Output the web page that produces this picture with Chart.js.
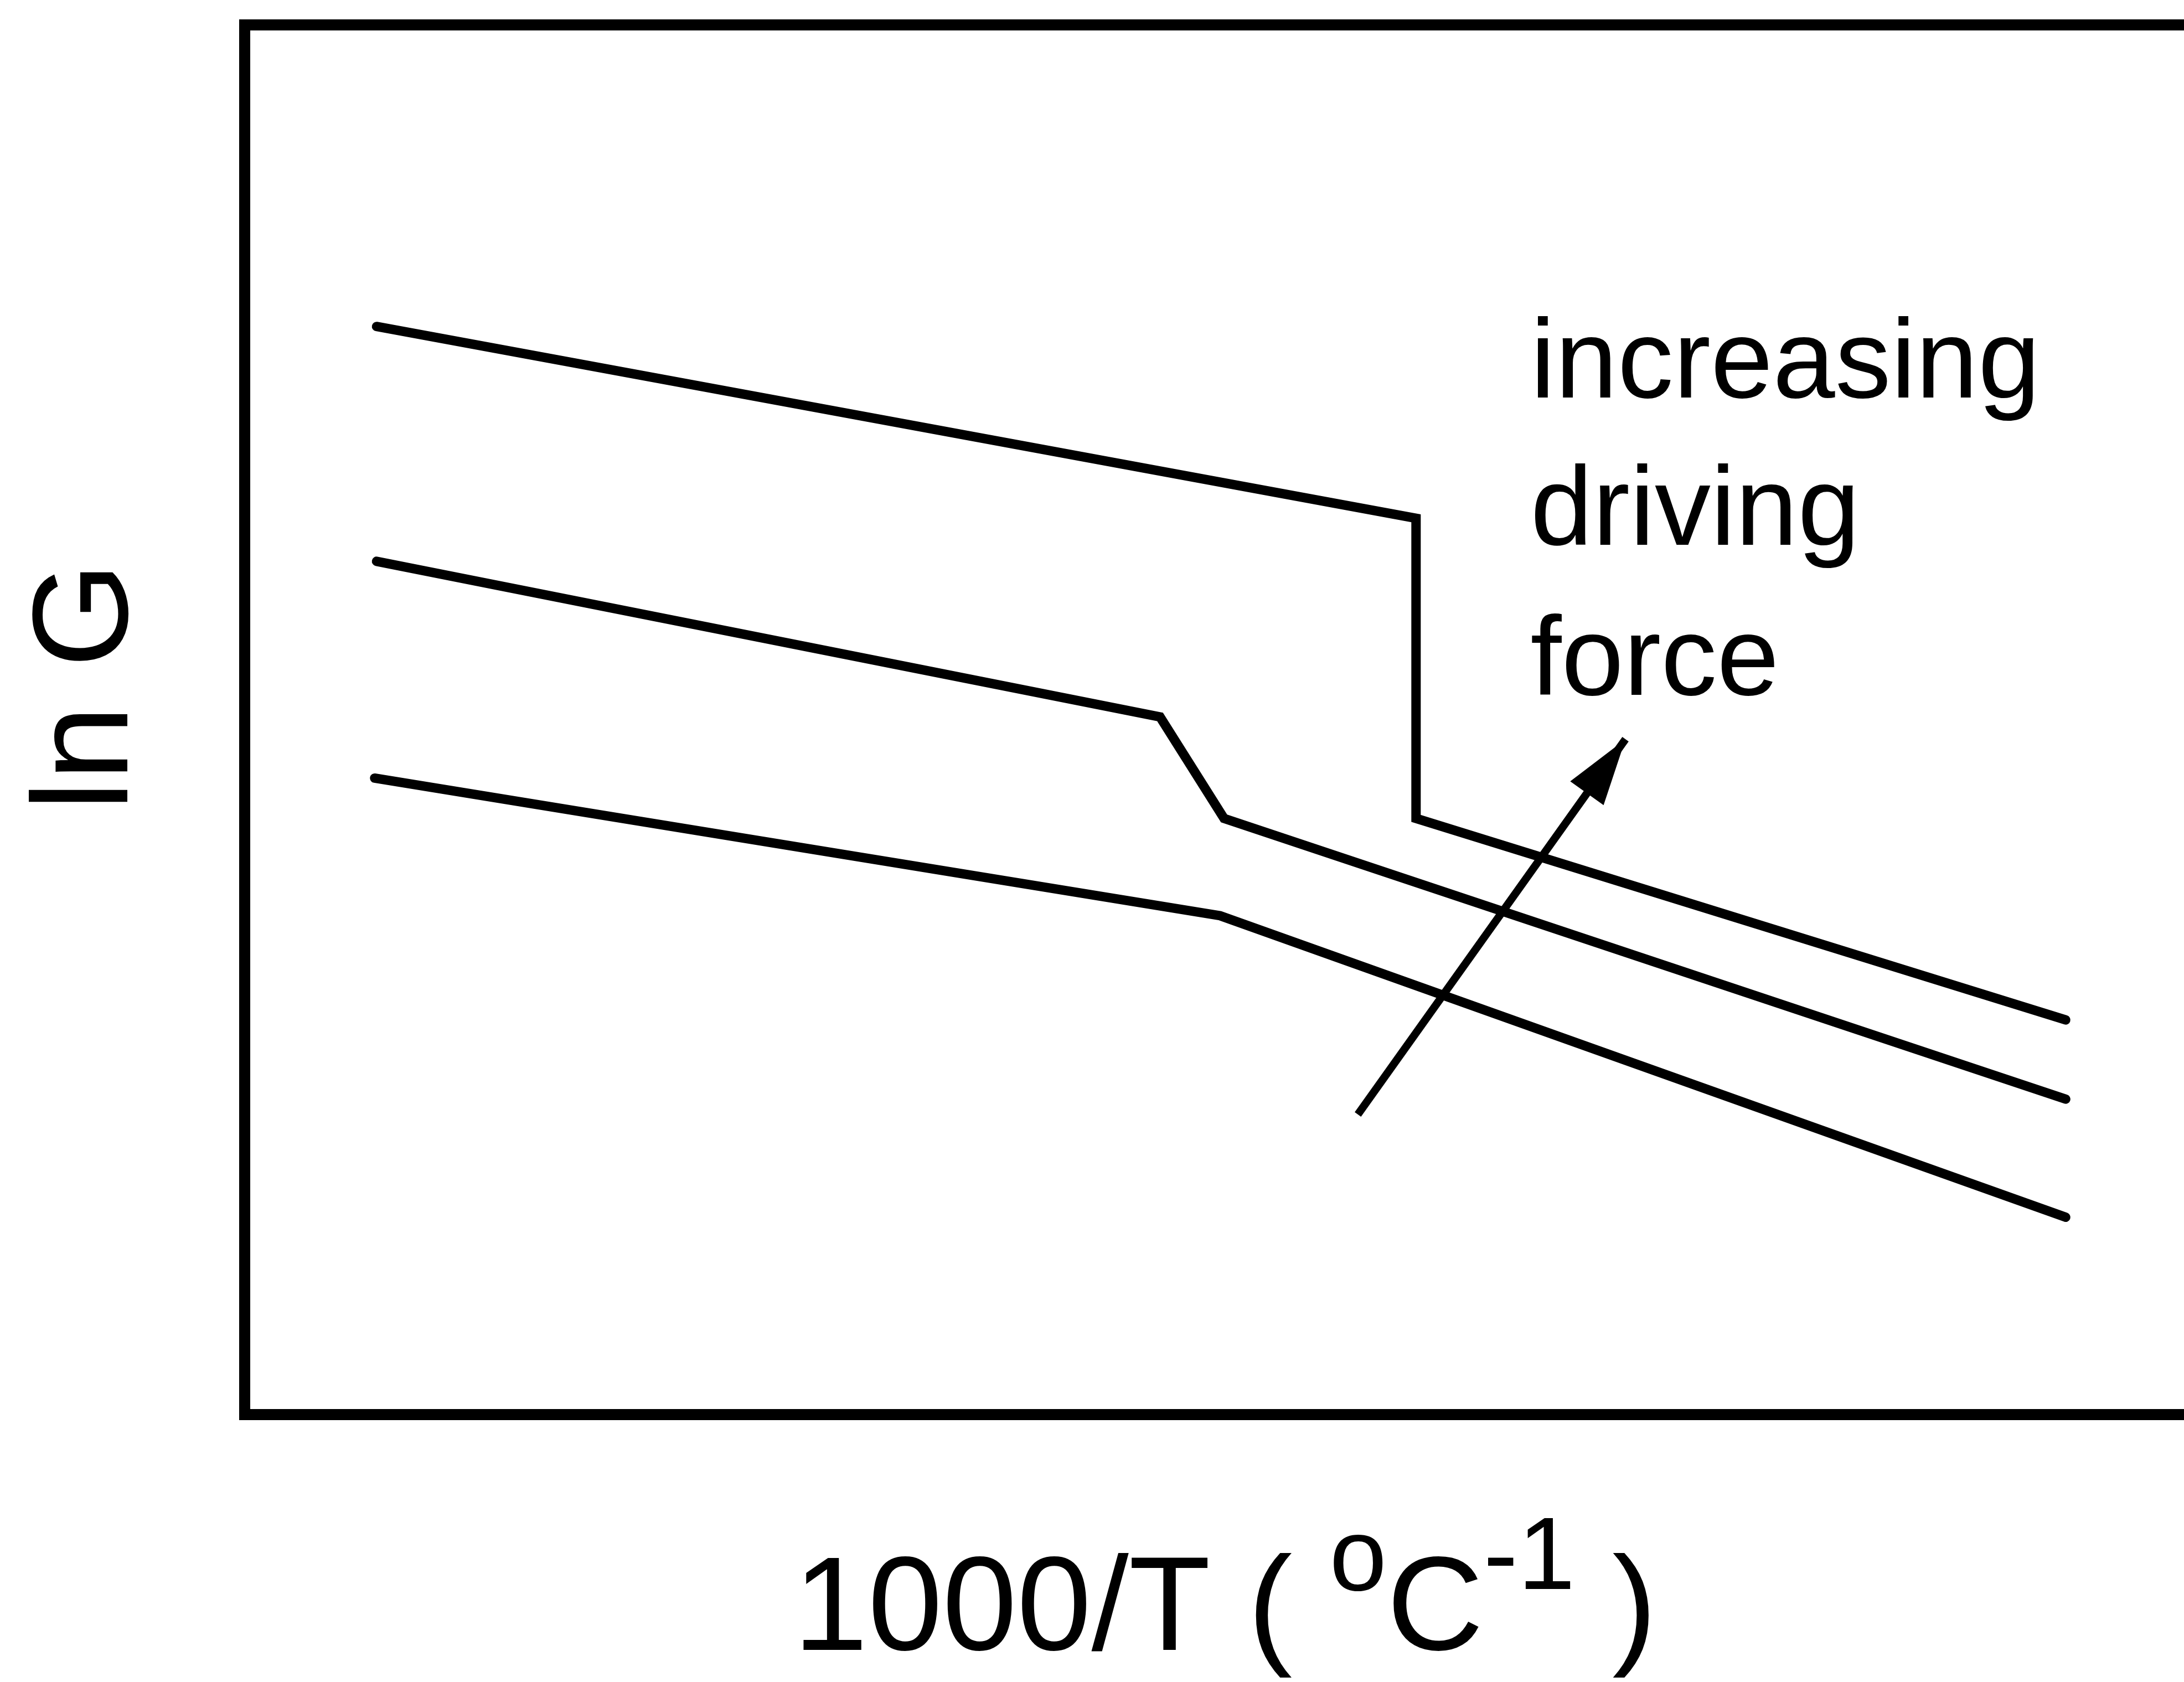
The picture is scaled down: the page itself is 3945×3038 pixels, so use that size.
<!DOCTYPE html>
<html>
<head>
<meta charset="utf-8">
<title>ln G vs 1000/T</title>
<script src="https://cdn.jsdelivr.net/npm/chart.js@4.4.1/dist/chart.umd.min.js"></script>
<style>
  html, body { margin: 0; padding: 0; background: #fff; }
  #chart { display: block; }
</style>
</head>
<body>
<canvas id="chart" width="3945" height="3038"></canvas>
<script>
// curves (arbitrary units: x = 1000/T, y = ln G)
const upperX = [0.68, 6.04, 6.04, 9.39];
const upperY = [7.83, 6.45, 4.29, 2.84];
const middleX = [0.68, 4.72, 5.05, 9.39];
const middleY = [6.14, 5.02, 4.29, 2.27];
const lowerX = [0.67, 5.03, 9.39];
const lowerY = [4.58, 3.59, 1.42];

// arrow "increasing driving force": tail, tip
const arrowX = [5.74, 7.12];
const arrowY = [2.16, 4.86];

const noteLines = ['increasing', 'driving', 'force'];
const noteX = 6.63;
const noteY = [7.32, 6.26, 5.18];

const FONT = '"Liberation Sans", Arial, Helvetica, sans-serif';

function points(xs, ys) {
    return xs.map(function(x, i) { return { x: x, y: ys[i] }; });
}

function curve(xs, ys, width) {
    return {
        data: points(xs, ys),
        borderColor: '#000',
        borderWidth: width,
        borderCapStyle: 'round',
        borderJoinStyle: 'miter',
        pointRadius: 0,
        tension: 0,
        fill: false
    };
}

const hiddenAxis = function(position) {
    return {
        type: 'linear',
        position: position,
        min: 0,
        max: 10,
        ticks: { display: false },
        grid: { display: false, drawTicks: false },
        border: { display: true, width: 20, color: '#000' },
        title: { display: false }
    };
};

// titles, note text and arrow head
const figureText = {
    id: 'figureText',
    afterDraw: function(chart) {
        const ctx = chart.ctx;
        const xs = chart.scales.x;
        const ys = chart.scales.y;
        ctx.save();
        ctx.fillStyle = '#000';
        ctx.textBaseline = 'alphabetic';

        // note
        ctx.font = '202px ' + FONT;
        ctx.textAlign = 'left';
        noteLines.forEach(function(t, i) {
            ctx.fillText(t, xs.getPixelForValue(noteX), ys.getPixelForValue(noteY[i]));
        });

        // arrow head
        const x0 = xs.getPixelForValue(arrowX[0]), y0 = ys.getPixelForValue(arrowY[0]);
        const x1 = xs.getPixelForValue(arrowX[1]), y1 = ys.getPixelForValue(arrowY[1]);
        const ang = Math.atan2(y1 - y0, x1 - x0);
        const headLen = 120, headHalf = 37;
        const bx = x1 - headLen * Math.cos(ang), by = y1 - headLen * Math.sin(ang);
        ctx.beginPath();
        ctx.moveTo(x1, y1);
        ctx.lineTo(bx + headHalf * Math.sin(ang), by - headHalf * Math.cos(ang));
        ctx.lineTo(bx - headHalf * Math.sin(ang), by + headHalf * Math.cos(ang));
        ctx.closePath();
        ctx.fill();

        // y title
        ctx.save();
        ctx.translate(230, 1240);
        ctx.rotate(-Math.PI / 2);
        ctx.font = '245px ' + FONT;
        ctx.textAlign = 'center';
        ctx.fillText('ln G', 0, 0);
        ctx.restore();

        // x title with superscripts
        const parts = [
            { t: '1000/T ( ', size: 242, rise: 0 },
            { t: 'o', size: 186, rise: 108 },
            { t: 'C', size: 242, rise: 0 },
            { t: '-1', size: 186, rise: 110 },
            { t: ' )', size: 242, rise: 0 }
        ];
        let total = 0;
        parts.forEach(function(p) {
            ctx.font = p.size + 'px ' + FONT;
            p.w = ctx.measureText(p.t).width;
            total += p.w;
        });
        let x = 2213 - total / 2;
        const base = 2980;
        ctx.textAlign = 'left';
        parts.forEach(function(p) {
            ctx.font = p.size + 'px ' + FONT;
            ctx.fillText(p.t, x, base - p.rise);
            x += p.w;
        });
        ctx.restore();
    }
};

const arrowShaft = curve(arrowX, arrowY, 14);
arrowShaft.borderCapStyle = 'butt';

new Chart(document.getElementById('chart'), {
    type: 'line',
    data: {
        datasets: [
            curve(upperX, upperY, 17),
            curve(middleX, middleY, 17),
            curve(lowerX, lowerY, 17),
            arrowShaft
        ]
    },
    options: {
        responsive: false,
        animation: false,
        events: [],
        layout: { padding: { left: 442, top: 45, right: 0, bottom: 483 } },
        plugins: {
            legend: { display: false },
            tooltip: { enabled: false }
        },
        scales: {
            x: hiddenAxis('bottom'),
            xTop: hiddenAxis('top'),
            y: hiddenAxis('left')
        }
    },
    plugins: [figureText]
});
</script>
</body>
</html>
